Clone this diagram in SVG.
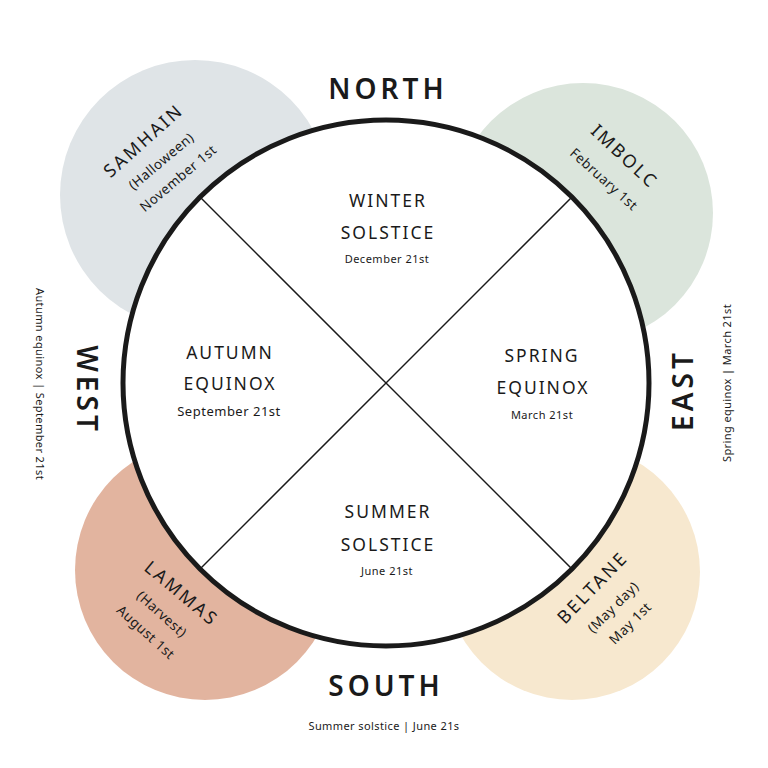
<svg xmlns="http://www.w3.org/2000/svg" width="768" height="768" viewBox="0 0 768 768">
<style>
  text { font-family: "Noto Sans", "Open Sans", sans-serif; fill: #1a1a1a; text-anchor: middle; dominant-baseline: central; }
  .dir { font-size: 28px; font-weight: 600; letter-spacing: 4px; }
  .season { font-size: 17.5px; letter-spacing: 2px; }
  .date { font-size: 11px; letter-spacing: 0.5px; }
  .fest { font-size: 18px; letter-spacing: 2.5px; }
  .sub { font-size: 13.5px; letter-spacing: 0.5px; }
  .note { font-size: 11px; letter-spacing: 0.4px; }
  .spoke { stroke: #1a1a1a; stroke-width: 1.5; fill: none; }
</style>
<rect width="768" height="768" fill="#ffffff"/>

<g id="samhain-bg"><circle cx="195" cy="195" r="135" fill="#dfe4e7"/></g>
<g id="imbolc-bg"><circle cx="583" cy="213" r="130" fill="#dbe5dc"/></g>
<g id="lammas-bg"><circle cx="205" cy="570" r="130" fill="#e2b49f"/></g>
<g id="beltane-bg"><circle cx="572" cy="572" r="128" fill="#f7e8cf"/></g>

<g id="wheel"><circle cx="386" cy="383" r="263" fill="#ffffff" stroke="#1a1a1a" stroke-width="5"/></g>

<g id="connectors">
  <line class="spoke" x1="201" y1="198" x2="571" y2="568"/>
  <line class="spoke" x1="571" y1="198" x2="201" y2="568"/>
</g>

<g id="north"><text class="dir" x="388" y="88">NORTH</text></g>
<g id="south"><text class="dir" x="386" y="685">SOUTH</text></g>
<g id="west"><text class="dir" transform="translate(88 390) rotate(90)">WEST</text></g>
<g id="east"><text class="dir" transform="translate(682 390) rotate(-90)">EAST</text></g>

<g id="winter">
  <text class="season" x="388" y="200">WINTER</text>
  <text class="season" x="388" y="232">SOLSTICE</text>
  <text class="date" x="387" y="258">December 21st</text>
</g>
<g id="autumn">
  <text class="season" x="230" y="352">AUTUMN</text>
  <text class="season" x="230" y="383">EQUINOX</text>
  <text class="date" x="229" y="411" style="font-size:13px">September 21st</text>
</g>
<g id="spring">
  <text class="season" x="542" y="355">SPRING</text>
  <text class="season" x="543" y="387">EQUINOX</text>
  <text class="date" x="542" y="414">March 21st</text>
</g>
<g id="summer">
  <text class="season" x="388" y="511">SUMMER</text>
  <text class="season" x="388" y="544">SOLSTICE</text>
  <text class="date" x="387" y="570">June 21st</text>
</g>

<g id="samhain">
  <text class="fest" transform="translate(143 140) rotate(-42)">SAMHAIN</text>
  <text class="sub" transform="translate(161 161) rotate(-40)">(Halloween)</text>
  <text class="sub" transform="translate(178 178) rotate(-40)">November 1st</text>
</g>
<g id="imbolc">
  <text class="fest" transform="translate(625 156) rotate(43)">IMBOLC</text>
  <text class="sub" transform="translate(604 179) rotate(42)">February 1st</text>
</g>
<g id="lammas">
  <text class="fest" transform="translate(182 593) rotate(40)">LAMMAS</text>
  <text class="sub" transform="translate(162 614) rotate(42)">(Harvest)</text>
  <text class="sub" transform="translate(146 632) rotate(42)">August 1st</text>
</g>
<g id="beltane">
  <text class="fest" transform="translate(592 587) rotate(-46)">BELTANE</text>
  <text class="sub" transform="translate(613 607) rotate(-45)">(May day)</text>
  <text class="sub" transform="translate(630 623) rotate(-45)">May 1st</text>
</g>

<g id="notes">
  <text class="note" transform="translate(40 384) rotate(90)">Autumn equinox | September 21st</text>
  <text class="note" transform="translate(726 383) rotate(-90)">Spring equinox | March 21st</text>
  <text class="note" x="384" y="725">Summer solstice | June 21s</text>
</g>
</svg>
